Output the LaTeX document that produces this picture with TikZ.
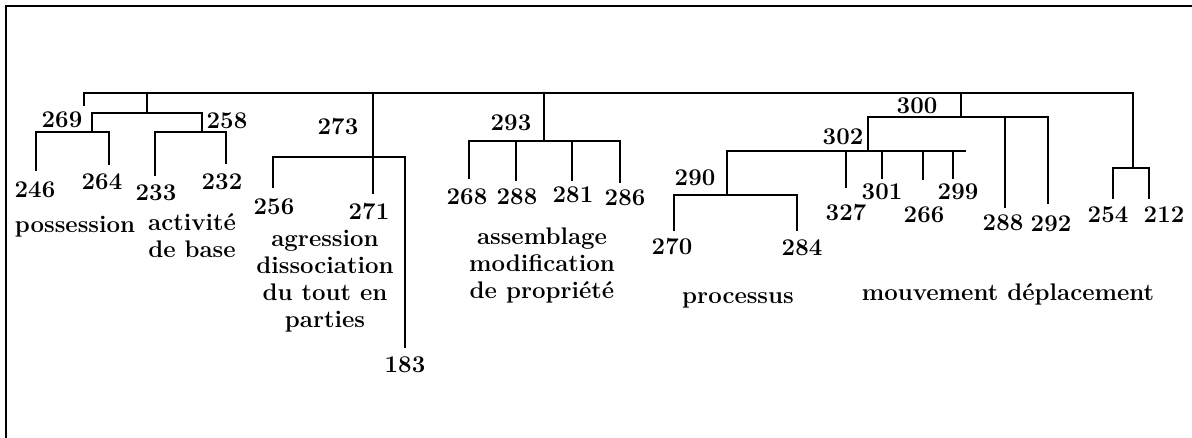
\documentclass[tikz,border=0pt]{standalone}
\usepackage{fontspec}
\begin{document}
\begin{tikzpicture}[x=1pt,y=-1pt,
  num/.style={font=\fontsize{24}{27}\selectfont\bfseries, inner sep=0pt, anchor=center},
  lab/.style={font=\fontsize{24}{27}\selectfont\bfseries, inner sep=0pt, align=center, anchor=base},
  tree/.style={line width=1.8pt, line cap=rect, line join=miter},
  frame/.style={line width=2.4pt}]
\useasboundingbox (0,0) rectangle (1192,437);
% frame
\coordinate (fbl) at (6,438);
\coordinate (ftl) at (6,6);
\coordinate (ftr) at (1193,6);
\draw[frame] (fbl) -- (ftl) -- (ftr);

% labels: numbers
\node[num] (n269) at (62,119.5) {269};
\node[num] (n258) at (227,121) {258};
\node[num] (n273) at (338,127) {273};
\node[num] (n246) at (35,190) {246};
\node[num] (n264) at (102,182) {264};
\node[num] (n233) at (156,193) {233};
\node[num] (n232) at (222,182) {232};
\node[num] (n256) at (274,207) {256};
\node[num] (n271) at (369,212) {271};
\node[num] (n183) at (405,365) {183};
\node[num] (n293) at (511,123) {293};
\node[num] (n268) at (467,197) {268};
\node[num] (n288a) at (517,197) {288};
\node[num] (n281) at (573,195) {281};
\node[num] (n286) at (625,198) {286};
\node[num] (n290) at (695,178) {290};
\node[num] (n270) at (672,247) {270};
\node[num] (n284) at (802,248) {284};
\node[num] (n302) at (843,137) {302};
\node[num] (n300) at (917,106) {300};
\node[num] (n327) at (846,213) {327};
\node[num] (n301) at (882,192) {301};
\node[num] (n266) at (924,215) {266};
\node[num] (n299) at (958,192) {299};
\node[num] (n288b) at (1003,223) {288};
\node[num] (n292) at (1051,224) {292};
\node[num] (n254) at (1108,215) {254};
\node[num] (n212) at (1164,215) {212};

% labels: words (base = baseline of last line)
\node[lab] (lposs) at (75,232) {possession};
\node[lab] (lact) at (192,257) {activité\\de base};
\node[lab] (lagr) at (325,327) {agression\\dissociation\\du tout en\\parties};
\node[lab] (lass) at (542,298) {assemblage\\modification\\de propriété};
\node[lab] (lproc) at (738,303) {processus};
\node[lab] (lmouv) at (1008,300) {mouvement déplacement};

% junction coordinates
\coordinate (root0) at (84,105);
\coordinate (rootL) at (84,93);
\coordinate (rootR) at (1133,93);
\coordinate (jA) at (147,93);
\coordinate (jA2) at (147,113);
\coordinate (j269) at (92,113);
\coordinate (j258) at (202,113);
\coordinate (b269) at (92,132);
\coordinate (b258) at (202,132);
\coordinate (e246) at (36,170);
\coordinate (e264) at (109,164);
\coordinate (e233) at (155,175);
\coordinate (e232) at (226,163);
\coordinate (j273) at (373,93);
\coordinate (e271) at (373,193);
\coordinate (e256) at (273,187);
\coordinate (e183) at (405,347);
\coordinate (j293) at (544,93);
\coordinate (b293) at (544,141);
\coordinate (e268) at (469,178);
\coordinate (e288a) at (516,180);
\coordinate (e281) at (572,180);
\coordinate (e286) at (620,182);
\coordinate (j300) at (961,93);
\coordinate (b300) at (961,117);
\coordinate (j302) at (868,117);
\coordinate (b302) at (868,151);
\coordinate (r302) at (965,151);
\coordinate (e288b) at (1005,207);
\coordinate (e292) at (1048,203);
\coordinate (j290) at (727,151);
\coordinate (b290) at (727,195);
\coordinate (e327) at (846,187);
\coordinate (e301) at (882,178);
\coordinate (e266) at (923,179);
\coordinate (e299) at (953,178);
\coordinate (e270) at (674,230);
\coordinate (e284) at (797,230);
\coordinate (bR) at (1133,168);
\coordinate (e254) at (1113,198);
\coordinate (e212) at (1149,198);

% main line
\draw[tree] (root0) -- (rootL) -- (rootR) -- (bR);
\draw[tree] (jA) -- (jA2);
\draw[tree] (j269) |- (j258) -- (b258);
\draw[tree] (j269) -- (b269);
\draw[tree] (e246) |- (b269) -| (e264);
\draw[tree] (e233) |- (b258) -| (e232);
% 273
\draw[tree] (j273) -- (e271);
\draw[tree] (e256) |- (373,157) -| (e183);
% 293
\draw[tree] (j293) -- (b293);
\draw[tree] (e268) |- (b293) -| (e286);
\draw[tree] (e288a |- b293) -- (e288a);
\draw[tree] (e281 |- b293) -- (e281);
% 300 / 302
\draw[tree] (j300) -- (b300);
\draw[tree] (b302) -- (j302) -| (e292);
\draw[tree] (e288b |- j302) -- (e288b);
\draw[tree] (j290) -- (r302);
\draw[tree] (e327 |- r302) -- (e327);
\draw[tree] (e301 |- r302) -- (e301);
\draw[tree] (e266 |- r302) -- (e266);
\draw[tree] (e299 |- r302) -- (e299);
% 290
\draw[tree] (j290) -- (b290);
\draw[tree] (e270) |- (b290) -| (e284);
% right pair
\draw[tree] (e254) |- (bR) -| (e212);
\end{tikzpicture}
\end{document}
